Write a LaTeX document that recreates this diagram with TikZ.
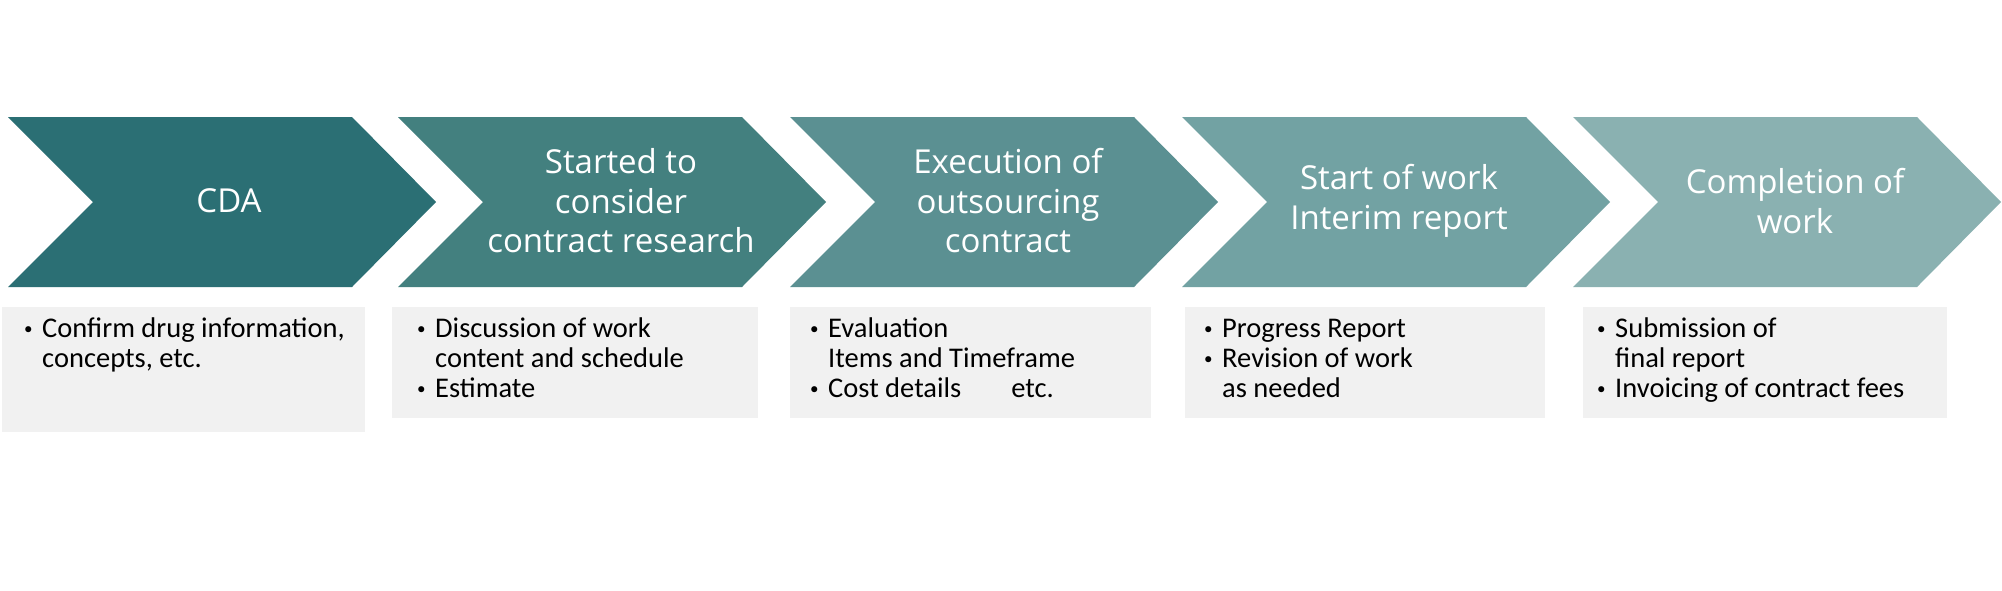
\documentclass[tikz,border=0pt]{standalone}
\usepackage{fontspec}
\setmainfont{Carlito}
\newfontfamily\headfont{Open Sans}
\newfontfamily\cjk{Noto Sans CJK JP}
\definecolor{cA}{HTML}{2B6F74}
\definecolor{cB}{HTML}{43807F}
\definecolor{cC}{HTML}{5B9092}
\definecolor{cD}{HTML}{72A2A3}
\definecolor{cE}{HTML}{8AB1B1}
\definecolor{boxgray}{HTML}{F1F1F1}
\newcommand\bul{\makebox[28pt][l]{\raisebox{-3pt}{\cjk ・}}}
\tikzset{
  headtext/.style={text=white, align=center, inner sep=0pt, font=\headfont\fontsize{33}{39.5}\selectfont},
  bodytext/.style={anchor=base west, inner sep=0pt, font=\fontsize{28.5}{30}\selectfont, text=black},
}
\newcommand\chev[2]{% left x, colour
  \fill[#2] (#1,117) -- ++(344,0) -- ++(84,85) -- ++(-84,85) -- ++(-344,0) -- ++(85,-85) -- cycle;
}
\begin{document}
\begin{tikzpicture}[x=1pt,y=-1pt]
\useasboundingbox (0,0) rectangle (2002,590);
\fill[white] (0,0) rectangle (2002,590);
% chevrons
\chev{8}{cA}
\chev{398}{cB}
\chev{790}{cC}
\chev{1182}{cD}
\chev{1573}{cE}
\node[headtext] (h1) at (229,201) {CDA};
\node[headtext] (h2) at (621,201) {Started to\\consider\\contract research};
\node[headtext] (h3) at (1008,201) {Execution of\\outsourcing\\contract};
\node[headtext] (h4) at (1399,201) {Start of work\\Interim report};
\node[headtext] (h5) at (1795,201) {Completion of\\work};
% boxes
\fill[boxgray] (2,307) rectangle (365,432);
\fill[boxgray] (392,307) rectangle (758,418);
\fill[boxgray] (790,307) rectangle (1151,418);
\fill[boxgray] (1185,307) rectangle (1545,418);
\fill[boxgray] (1583,307) rectangle (1947,418);
\node[bodytext] (t1) at (14,337) {\begin{tabular}[t]{@{}l@{}l@{}}\bul&Confirm drug information,\\&concepts, etc.\end{tabular}};
\node[bodytext] (t2) at (407,337) {\begin{tabular}[t]{@{}l@{}l@{}}\bul&Discussion of work\\&content and schedule\\\bul&Estimate\end{tabular}};
\node[bodytext] (t3) at (800,337) {\begin{tabular}[t]{@{}l@{}l@{}}\bul&Evaluation\\&Items and Timeframe\\\bul&Cost details\hspace{50pt}etc.\end{tabular}};
\node[bodytext] (t4) at (1194,337) {\begin{tabular}[t]{@{}l@{}l@{}}\bul&Progress Report\\\bul&Revision of work\\&as needed\end{tabular}};
\node[bodytext] (t5) at (1587,337) {\begin{tabular}[t]{@{}l@{}l@{}}\bul&Submission of\\&final report\\\bul&Invoicing of contract fees\end{tabular}};
\end{tikzpicture}
\end{document}
